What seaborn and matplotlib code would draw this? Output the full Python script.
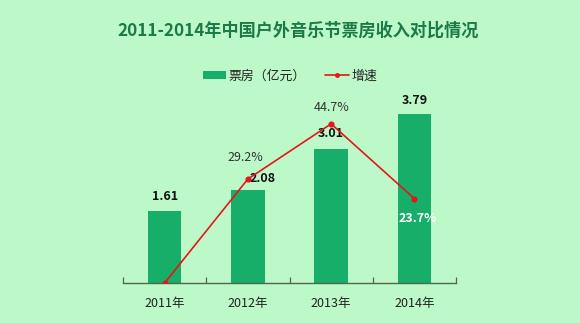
import matplotlib
matplotlib.use("Agg")
import matplotlib.pyplot as plt
import seaborn as sns
import pandas as pd
from matplotlib.patches import Patch
from matplotlib.lines import Line2D

years = ["2011年", "2012年", "2013年", "2014年"]
revenue = [1.61, 2.08, 3.01, 3.79]          # 票房（亿元）
growth = [0.0, 29.2, 44.7, 23.7]            # 增速（%）
revenue_labels = ["1.61", "2.08", "3.01", "3.79"]
growth_labels = ["", "29.2%", "44.7%", "23.7%"]

sns.set_theme(style="white")
plt.rcParams["font.family"] = ["Noto Sans CJK SC", "DejaVu Sans"]

BG = "#BDF8C8"
BAR = "#16AE68"
RED = "#E4161C"

df = pd.DataFrame({"year": years, "revenue": revenue, "growth": growth})

W, H = 580, 323
fig = plt.figure(figsize=(W / 100, H / 100), dpi=100, facecolor=BG)
ax = fig.add_axes([123 / W, (H - 283) / H, (456 - 123) / W, (283 - 105) / H])
ax.set_facecolor(BG)

sns.barplot(data=df, x="year", y="revenue", color=BAR, width=0.4,
            saturation=1, edgecolor="none", linewidth=0, ax=ax)
ax.set_ylim(0, 4)
ax.set_xlim(-0.5, 3.5)
ax.set_xlabel("")
ax.set_ylabel("")
ax.set_yticks([])
for s in ["top", "right", "left"]:
    ax.spines[s].set_visible(False)
ax.spines["bottom"].set_color("#4F6652")
ax.spines["bottom"].set_linewidth(1.0)
ax.set_xticks(range(len(years)))
ax.set_xticklabels(years, fontsize=9, color="#222222")
ax.tick_params(axis="x", which="major", length=0, pad=10)
ax.set_xticks([i - 0.5 for i in range(len(years) + 1)], minor=True)
ax.tick_params(axis="x", which="minor", direction="in", length=4,
               width=0.9, color="#4F6652", bottom=True)

ax2 = ax.twinx()
sns.pointplot(data=df, x="year", y="growth", color=RED, markers="o",
              linewidth=1.2, markersize=3.5, ax=ax2)
ax2.set_ylim(0, 50)
ax2.set_xlim(-0.5, 3.5)
ax2.set_yticks([])
ax2.set_ylabel("")
ax2.set_xlabel("")
for s in ["top", "right", "left", "bottom"]:
    ax2.spines[s].set_visible(False)
ax2.set_facecolor("none")

# value labels for the bars
bar_offsets = [(0, 15), (15, 12), (0, 16), (0, 14)]
for i, (v, lab) in enumerate(zip(revenue, revenue_labels)):
    dx, dy = bar_offsets[i]
    ax.annotate(lab, (i, v), xytext=(dx, dy), textcoords="offset pixels",
                ha="center", va="center", fontsize=9, fontweight="bold",
                color="#111111")

# labels for the growth line
growth_offsets = [(0, 0), (-3, 22), (0, 16), (3, -20)]
growth_colors = ["#333333", "#333333", "#333333", "white"]
growth_weights = ["normal", "normal", "normal", "bold"]
for i, (g, lab) in enumerate(zip(growth, growth_labels)):
    if not lab:
        continue
    dx, dy = growth_offsets[i]
    ax2.annotate(lab, (i, g), xytext=(dx, dy), textcoords="offset pixels",
                 ha="center", va="center", fontsize=9,
                 fontweight=growth_weights[i], color=growth_colors[i])

fig.text(298 / W, 1 - 31 / H, "2011-2014年中国户外音乐节票房收入对比情况",
         ha="center", va="center", fontsize=12.3, fontweight="bold",
         color="#1B7A48")

handles = [Patch(facecolor=BAR, edgecolor="none"),
           Line2D([0], [0], color=RED, lw=1.2, marker="o", markersize=2.5)]
fig.legend(handles, ["票房（亿元）", "增速"], loc="center",
           bbox_to_anchor=(290 / W, 1 - 76 / H), ncol=2, frameon=False,
           fontsize=9.3, handlelength=1.8, handleheight=0.6,
           handletextpad=0.2, columnspacing=1.5, labelcolor="#222222")

fig.savefig("out.png", dpi=100, facecolor=BG)
